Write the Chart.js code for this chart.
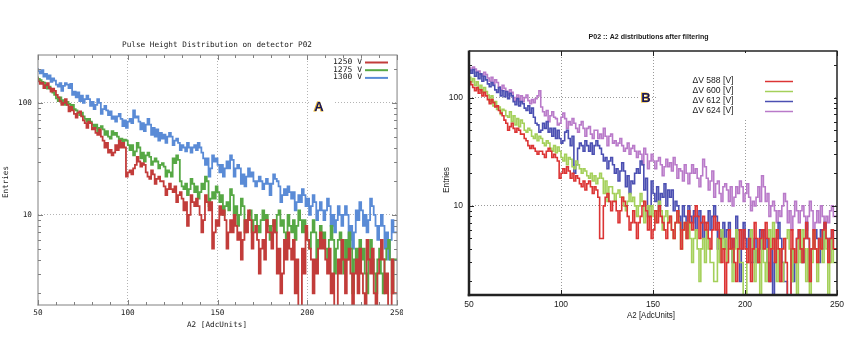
<!DOCTYPE html>
<html><head><meta charset="utf-8">
<script src="https://cdn.jsdelivr.net/npm/chart.js@4.4.1/dist/chart.umd.min.js"></script>
<style>
html,body{margin:0;padding:0;background:#fff;width:852px;height:337px;overflow:hidden;position:relative}
#wa{position:absolute;left:0;top:0;width:403px;height:337px;overflow:hidden}
#ca{position:absolute;left:0;top:0}
#cb{position:absolute;left:425px;top:0}
</style></head><body>
<div id="wa"><canvas id="ca" width="407" height="337"></canvas></div>
<canvas id="cb" width="427" height="337"></canvas>
<script>
// ---------- data ----------
const binStart = 50;   // first bin edge (AdcUnits)
const binWidth = 1;    // bin width (AdcUnits)
const binEnd = 250;
const xTicks = [50, 100, 150, 200, 250];
const yTicks = [10, 100];
const yMinorTicks = [2,3,4,5,6,7,8,9,20,30,40,50,60,70,80,90,200];
const xMinorTicksA = [60,70,80,90,110,120,130,140,160,170,180,190,210,220,230,240];

// Panel A : Pulse Height Distribution on detector P02 (one row = 10 bins)
const labelsA = ['1250 V', '1275 V', '1300 V'];
const a1250 = [
168,156,148,152,136,144,150,136,126,134,
128,118,112,104,96,100,108,96,84,92,
86,80,74,82,84,76,70,66,60,68,
66,58,60,54,52,58,50,46,40,44,
36,38,34,36,42,38,46,40,44,40,
22,24,25,23,26,28,33,30,27,29,
28,24,22,21,25,23,19,21,22,20,
20,18,15,17,19,17,16,18,13,15,
16,14,11,13,8,10,15,13,12,14,
12,10,7,9,15,13,11,13,5,7,
9,8,12,10,11,9,5,7,9,7,
10,8,6,7,4,6,9,7,11,9,
5,7,8,6,3,5,6,4,9,7,
7,5,9,7,3,5,2,3,6,4,
7,5,4,6,2,4,1,1,5,3,
8,6,5,4,2,4,3,5,7,5,
6,4,3,5,2,3,1,1,4,3,
6,4,2,4,5,3,1,3,4,2,
5,3,2,1,6,4,3,5,2,1,
3,4,6,4,2,3,1,1,4,2];
const a1275 = [
172,164,160,154,152,142,134,140,132,124,
118,110,104,112,100,106,96,102,98,92,
96,88,86,82,78,82,76,72,68,72,
68,64,60,64,56,60,62,58,52,56,
50,48,56,52,54,50,46,48,44,47,
46,42,38,42,34,37,44,40,32,36,
30,34,36,33,28,30,32,30,26,28,
29,27,22,25,24,22,32,29,34,31,
20,18,17,19,15,17,21,19,16,18,
14,16,19,17,22,20,12,14,16,14,
18,16,13,15,10,12,13,11,17,15,
10,12,8,10,14,12,7,9,10,11,
7,9,10,8,7,9,11,9,10,8,
6,8,9,7,10,11,8,9,7,6,
10,8,7,9,6,8,11,9,7,9,
7,6,5,7,9,7,4,6,8,6,
7,5,4,6,8,6,3,5,6,7,
4,3,6,4,7,5,2,4,5,3,
6,4,5,3,2,4,6,4,3,2,
4,5,3,2,4,5,6,4,2,4];
const a1300 = [
204,192,184,196,172,182,164,176,154,166,
158,146,140,150,128,142,150,146,136,148,
118,126,112,124,104,116,100,108,116,108,
94,102,88,96,108,100,80,88,94,86,
78,84,72,76,68,76,80,72,62,70,
60,68,72,66,86,74,76,68,58,66,
56,64,72,64,52,60,50,58,46,54,
48,52,44,50,54,50,42,46,48,44,
38,42,40,37,44,40,36,40,42,38,
44,40,36,32,28,32,22,26,34,30,
32,28,24,28,22,26,30,26,34,31,
22,26,28,26,19,23,18,22,26,22,
24,20,18,20,22,20,17,19,21,19,
15,19,23,21,20,18,13,15,17,15,
18,16,14,16,11,13,15,13,17,15,
12,14,10,12,15,13,9,11,13,11,
9,11,14,12,8,10,7,9,12,10,
8,10,12,10,6,8,5,7,11,9,
13,11,8,10,7,9,14,12,10,8,
6,8,10,8,5,7,4,6,9,7];

// Panel B : P02 :: A2 distributions after filtering (one row = 10 bins)
const labelsB = ['\u0394V 588 [V]', '\u0394V 600 [V]', '\u0394V 612 [V]', '\u0394V 624 [V]'];
const b588 = [
150,140,132,124,116,124,110,118,104,112,
104,96,88,96,90,82,84,76,72,68,
62,58,50,54,58,52,48,52,50,46,
46,42,40,36,34,36,34,32,30,32,
32,30,28,32,34,32,28,30,28,26,
18,20,22,20,23,21,18,20,17,19,
18,16,15,17,14,16,17,15,13,15,
14,12,5,5,10,12,13,11,9,11,
11,9,7,9,12,11,10,8,6,7,
9,7,5,7,8,10,11,9,6,8,
5,6,9,7,10,8,7,6,5,7,
8,6,5,7,9,7,4,6,7,5,
9,7,6,8,10,8,5,7,8,6,
7,5,4,6,8,6,7,5,3,4,
1,3,6,4,5,3,2,4,6,4,
6,4,3,5,2,4,7,5,3,5,
6,4,7,5,2,4,5,3,6,4,
2,4,5,3,1,1,6,4,3,5,
6,4,3,5,7,5,2,4,6,4,
3,5,4,6,7,5,3,5,6,4];
const b600 = [
166,154,140,150,130,140,120,130,112,124,
114,106,92,104,84,92,78,82,70,78,
76,68,66,74,60,68,56,64,54,62,
58,50,48,52,50,44,42,46,40,44,
42,38,36,40,38,34,32,36,31,35,
32,28,26,30,24,28,27,23,22,26,
24,22,20,22,21,19,18,20,17,19,
16,18,20,18,13,17,11,15,15,13,
11,13,14,12,12,10,9,11,13,11,
12,10,8,10,13,11,7,9,10,8,
10,8,7,9,11,9,6,8,9,7,
8,6,5,7,9,7,4,6,7,5,
7,5,3,5,6,4,2,4,5,3,
6,4,3,3,2,2,5,3,6,4,
5,3,4,4,2,4,6,4,3,3,
1,1,3,5,6,4,2,4,3,1,
5,3,2,4,6,4,7,5,2,4,
2,2,3,5,6,4,2,4,3,1,
5,3,6,4,2,4,1,3,6,4,
2,4,5,3,6,4,1,3,5,3];
const b612 = [
190,180,168,182,158,172,150,166,142,158,
146,134,126,138,130,118,112,124,104,116,
102,114,98,110,104,92,86,98,84,92,
88,80,76,84,72,80,66,58,56,48,
50,58,52,60,48,52,44,52,42,50,
42,38,40,48,50,42,36,44,20,24,
34,38,36,32,40,36,32,38,30,36,
40,36,34,30,26,28,22,26,28,24,
20,22,17,21,25,21,15,19,13,17,
16,20,22,20,26,24,14,18,8,10,
17,13,11,15,9,13,12,16,10,14,
12,14,9,11,10,8,6,10,8,6,
10,8,7,9,6,8,9,7,5,7,
7,9,6,8,10,8,4,6,5,7,
4,6,7,5,3,5,8,6,2,4,
7,5,4,6,3,3,5,3,4,6,
4,6,5,3,2,4,1,3,5,7,
5,3,2,2,1,1,4,2,3,5,
6,4,3,5,7,5,2,4,4,6,
5,3,6,4,7,5,3,5,6,4];
const b624 = [
196,188,178,192,184,172,176,164,158,172,
164,152,142,154,134,146,138,126,118,130,
122,114,106,118,112,100,94,106,92,104,
92,100,106,94,88,96,90,98,104,116,
82,74,68,76,60,68,74,66,64,56,
58,66,72,64,52,60,56,64,58,52,
48,56,60,52,44,52,54,46,42,50,
50,42,46,42,52,44,36,44,46,38,
40,36,38,42,36,32,34,38,30,34,
36,32,28,32,30,24,34,30,22,26,
30,26,22,26,28,24,19,23,27,23,
25,21,28,24,18,22,21,17,24,20,
16,20,24,20,22,18,15,19,27,23,
18,14,17,21,12,16,17,13,11,15,
16,14,11,15,10,12,15,13,17,15,
11,13,16,12,9,11,10,12,15,11,
19,15,11,13,8,10,11,9,7,9,
8,10,13,11,7,9,6,8,11,9,
7,9,10,8,6,8,11,9,5,7,
9,7,10,8,6,8,7,9,10,8];

// ---------- helpers ----------
function toSteps(vals) {
  const pts = vals.map((v, i) => ({x: binStart + i * binWidth, y: v}));
  pts.push({x: binEnd, y: vals[vals.length - 1]});
  return pts;
}

// draw text squeezed/stretched horizontally to a given width
function fitText(ctx, text, x, y, w, align) {
  const m = ctx.measureText(text).width;
  const s = w ? w / m : 1;
  ctx.save();
  ctx.translate(x, y);
  ctx.scale(s, 1);
  ctx.textAlign = align || 'center';
  ctx.fillText(text, 0, 0);
  ctx.restore();
}

function deco(o) {
  return {
    id: 'deco' + o.id,
    afterDraw(chart) {
      const {ctx, chartArea: a, scales: {x, y}} = chart;
      ctx.save();
      // tick marks inside the frame
      ctx.strokeStyle = o.frameColor; ctx.lineWidth = 1;
      ctx.beginPath();
      const hy = (v, len) => { const p = Math.round(y.getPixelForValue(v)) + 0.5;
        ctx.moveTo(a.left, p); ctx.lineTo(a.left + len, p);
        ctx.moveTo(a.right, p); ctx.lineTo(a.right - len, p); };
      const vx = (v, len) => { const p = Math.round(x.getPixelForValue(v)) + 0.5;
        ctx.moveTo(p, a.bottom); ctx.lineTo(p, a.bottom - len);
        ctx.moveTo(p, a.top); ctx.lineTo(p, a.top + len); };
      yMinorTicks.forEach(v => hy(v, o.minorLen));
      yTicks.forEach(v => hy(v, o.majorLen));
      (o.xMinor || []).forEach(v => vx(v, o.minorLen));
      xTicks.forEach(v => vx(v, o.majorLen));
      ctx.stroke();
      // frame
      ctx.strokeStyle = o.frameColor;
      const L = a.left, R = a.right, T = a.top, B = a.bottom;
      const seg = (x1, y1, x2, y2, w) => { ctx.lineWidth = w; ctx.beginPath(); ctx.moveTo(x1, y1); ctx.lineTo(x2, y2); ctx.stroke(); };
      seg(L, T, R + 0.5, T, o.fw.t);
      seg(R, T, R, B + 0.5, o.fw.r);
      seg(L - o.fw.l / 2, B, R + 0.5, B, o.fw.b);
      seg(L, T - 0.5, L, B + o.fw.b / 2, o.fw.l);
      // texts
      ctx.fillStyle = o.textColor;
      ctx.textBaseline = 'middle';
      ctx.font = o.titleFont;
      fitText(ctx, o.title, o.titlePos[0], o.titlePos[1], o.titleW, 'center');
      ctx.font = o.axisFont;
      fitText(ctx, o.xTitle, o.xTitlePos[0], o.xTitlePos[1], o.xTitleW, 'center');
      ctx.save();
      ctx.translate(o.yTitlePos[0], o.yTitlePos[1]); ctx.rotate(-Math.PI / 2);
      fitText(ctx, o.yTitle, 0, 0, o.yTitleW, 'center');
      ctx.restore();
      // legend
      if (o.legendBox) { ctx.fillStyle = '#fff'; ctx.fillRect(...o.legendBox); }
      ctx.font = o.legendFont;
      chart.data.datasets.forEach((d, i) => {
        const ly = o.legend.y0 + i * o.legend.dy;
        ctx.fillStyle = o.textColor;
        fitText(ctx, d.label, o.legend.tx, ly, o.legend.tw, o.legend.align);
        ctx.strokeStyle = d.borderColor; ctx.lineWidth = o.legend.lw;
        ctx.beginPath(); ctx.moveTo(o.legend.l1, ly + 0.5); ctx.lineTo(o.legend.l2, ly + 0.5); ctx.stroke();
      });
      // panel letter
      ctx.fillStyle = '#fff';
      ctx.fillRect(...o.letterBox);
      ctx.font = 'bold 13px "Liberation Sans", Arial, sans-serif';
      ctx.textAlign = 'center'; ctx.textBaseline = 'middle';
      ctx.lineWidth = 1; ctx.strokeStyle = '#e6b020';
      ctx.strokeText(o.letter, o.letterPos[0] - 0.6, o.letterPos[1]);
      ctx.fillStyle = '#15155a';
      ctx.fillText(o.letter, o.letterPos[0], o.letterPos[1]);
      ctx.restore();
    }
  };
}

function makeChart(el, o) {
  return new Chart(el, {
    type: 'line',
    data: {
      datasets: o.series.map((s, i) => ({
        label: o.labels[i], data: toSteps(s), borderColor: o.colors[i],
        borderWidth: o.lw, stepped: 'after', pointRadius: 0, fill: false
      }))
    },
    options: {
      responsive: false, animation: false, devicePixelRatio: 1,
      layout: {padding: o.pad},
      plugins: {legend: {display: false}, tooltip: {enabled: false}, title: {display: false}},
      scales: {
        x: {
          type: 'linear', min: binStart, max: binEnd,
          afterBuildTicks: s => { s.ticks = xTicks.map(v => ({value: v})); },
          afterFit: s => { s.height = o.xh; },
          grid: {drawTicks: false, lineWidth: 1,
            color: c => (c.tick && [100, 150, 200].includes(c.tick.value)) ? o.gridColor : 'rgba(0,0,0,0)'},
          border: {display: false, dash: [1, 2]},
          ticks: {font: o.tickFont, color: o.textColor, padding: o.xPad, maxRotation: 0, autoSkip: false,
            callback: v => String(v)}
        },
        y: {
          type: 'logarithmic', min: o.ymin, max: o.ymax,
          afterBuildTicks: s => { s.ticks = yTicks.map(v => ({value: v})); },
          afterFit: s => { s.width = o.yw; },
          grid: {drawTicks: false, lineWidth: 1, color: o.gridColor},
          border: {display: false, dash: [1, 2]},
          ticks: {font: o.tickFont, color: o.textColor, padding: 6, autoSkip: false,
            callback: v => String(v)}
        }
      }
    },
    plugins: [deco(o)]
  });
}

// ---------- panel A ----------
const monoA = '"DejaVu Sans Mono", "Liberation Mono", monospace';
makeChart(document.getElementById('ca'), {
  id: 'A', series: [a1250, a1275, a1300], labels: labelsA,
  colors: ['#c23c3a', '#56a844', '#5a8bd6'], lw: 1.8,
  pad: {left: 0, top: 55, right: 6, bottom: 12}, xh: 20, yw: 38,
  ymin: 1.57, ymax: 268, xPad: 3,
  tickFont: {family: monoA, size: 7.7}, textColor: '#222', gridColor: '#b4b4b4',
  frameColor: '#808080', fw: {l: 1, r: 1, t: 1, b: 1}, minorLen: 3, majorLen: 5,
  xMinor: xMinorTicksA,
  title: 'Pulse Height Distribution on detector P02', titlePos: [217, 45], titleW: 190,
  titleFont: '7.7px ' + monoA, axisFont: '7.7px ' + monoA,
  xTitle: 'A2 [AdcUnits]', xTitlePos: [217, 325], xTitleW: 60,
  yTitle: 'Entries', yTitlePos: [6, 182], yTitleW: 32,
  legendFont: '7.7px ' + monoA,
  legend: {y0: 62, dy: 7.7, tx: 362, tw: 29, align: 'right', l1: 365, l2: 388, lw: 2},
  legendBox: null,
  letter: 'A', letterPos: [319, 107], letterBox: [311, 99, 22, 16]
});

// ---------- panel B ----------
const sansB = '"Liberation Sans", Arial, sans-serif';
makeChart(document.getElementById('cb'), {
  id: 'B', series: [b588, b600, b612, b624], labels: labelsB,
  colors: ['#dc3434', '#a4d05a', '#4b4fb2', '#b97ac9'], lw: 1.6,
  pad: {left: 0, top: 51, right: 15, bottom: 22}, xh: 20, yw: 44,
  ymin: 1.5, ymax: 270, xPad: 5,
  tickFont: {family: sansB, size: 8.5}, textColor: '#1a1a1a', gridColor: '#9a9a9a',
  frameColor: '#222', fw: {l: 2.5, r: 1.5, t: 1.5, b: 2.5}, minorLen: 3, majorLen: 5,
  xMinor: null,
  title: 'P02 :: A2 distributions after filtering', titlePos: [223.5, 37], titleW: 120,
  titleFont: 'bold 8px ' + sansB, axisFont: '8.5px ' + sansB,
  xTitle: 'A2 [AdcUnits]', xTitlePos: [226, 316], xTitleW: 48,
  yTitle: 'Entries', yTitlePos: [22, 180], yTitleW: 26,
  legendFont: '9px ' + sansB,
  legend: {y0: 81, dy: 10, tx: 267.5, tw: 41, align: 'left', l1: 340, l2: 368, lw: 1.5},
  legendBox: [231, 53, 178, 66],
  letter: 'B', letterPos: [221, 98], letterBox: [215, 91, 12, 14]
});
</script>
</body></html>
